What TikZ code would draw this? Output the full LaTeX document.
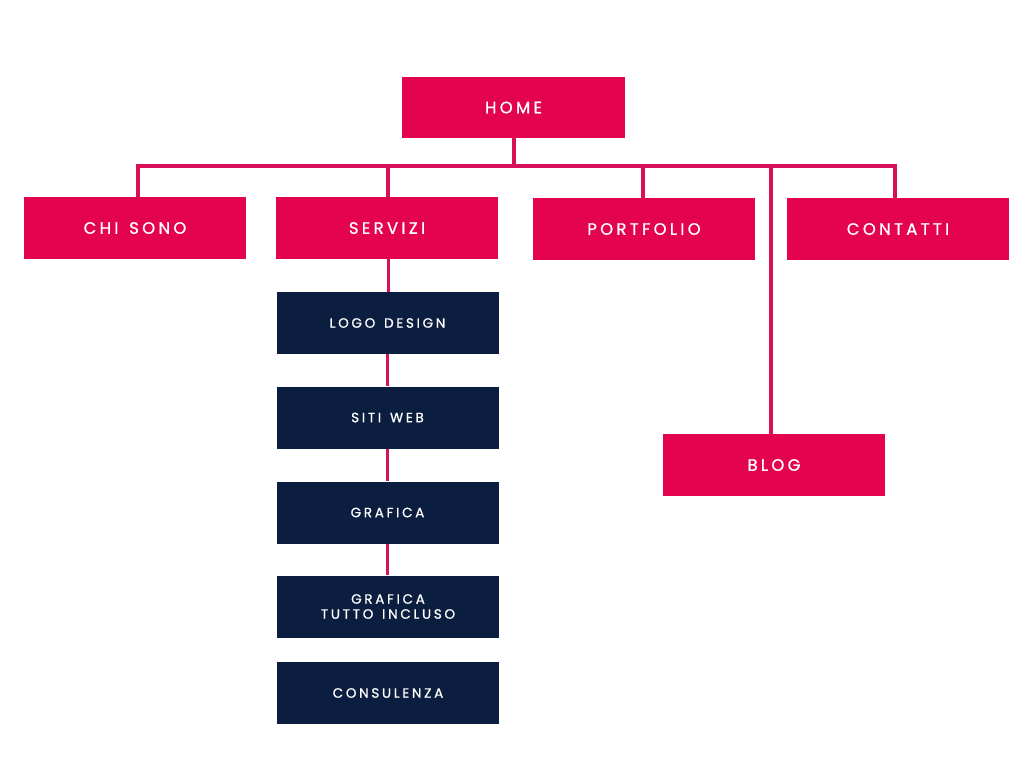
\documentclass[tikz,border=0pt]{standalone}
\usepackage{fontspec}
\setmainfont{Poppins}[LetterSpace=20,FakeBold=0.8,WordSpace=1.4]
\definecolor{pinkbox}{HTML}{E3034F}
\definecolor{pinkline}{HTML}{D8105A}
\definecolor{navybox}{HTML}{0C1E3F}
\begin{document}
\begin{tikzpicture}[x=1pt,y=-1pt,
  pinknode/.style={rectangle, fill=pinkbox, minimum width=222pt, minimum height=62pt, inner sep=0pt, text=white, font=\fontsize{16.5}{18}\selectfont},
  navynode/.style={rectangle, fill=navybox, minimum width=222pt, minimum height=62pt, inner sep=0pt, text=white, align=center, font=\fontsize{13.5}{18}\selectfont},
  conn/.style={draw=pinkline, line width=4pt}]
\useasboundingbox (0,0) rectangle (1024,768);
\fill[white] (0,0) rectangle (1024,768);
\coordinate (busy) at (0,166);
\node[pinknode, minimum width=223pt, minimum height=61pt] (home) at (513.5,107.5) {HOME};
\node[pinknode] (chi) at (135,228) {CHI SONO};
\node[pinknode] (servizi) at (387,228) {SERVIZI};
\node[pinknode] (portfolio) at (644,229) {PORTFOLIO};
\node[pinknode] (contatti) at (898,229) {CONTATTI};
\node[pinknode] (blog) at (774,465) {BLOG};
\node[navynode] (logo) at (387.5,323) {LOGO DESIGN};
\node[navynode] (siti) at (387.5,417.5) {SITI WEB};
\node[navynode] (grafica) at (387.5,512.5) {GRAFICA};
\node[navynode] (tutto) at (388,606.5) {GRAFICA\\[-3pt]TUTTO INCLUSO};
\node[navynode] (consulenza) at (388,693) {CONSULENZA};
\draw[conn] (home.south) -- (home.south |- busy);
\draw[conn, line cap=rect] ([xshift=3pt]chi.north |- busy) -- ([xshift=-3pt]contatti.north |- busy);
\draw[conn] ([xshift=3pt]chi.north) -- ([xshift=3pt]chi.north |- busy);
\draw[conn] ([xshift=1pt]servizi.north) -- ([xshift=1pt]servizi.north |- busy);
\draw[conn] ([xshift=-1pt]portfolio.north) -- ([xshift=-1pt]portfolio.north |- busy);
\draw[conn] ([xshift=-3pt]contatti.north) -- ([xshift=-3pt]contatti.north |- busy);
\draw[conn] ([xshift=-3pt]blog.north) -- ([xshift=-3pt]blog.north |- busy);
\draw[conn, line width=3pt] ([xshift=1pt]servizi.south) -- ([xshift=0.5pt]logo.north);
\draw[conn, line width=3pt] (logo.south) -- (siti.north);
\draw[conn, line width=3pt] (siti.south) -- (grafica.north);
\draw[conn, line width=3pt] (grafica.south) -- ([xshift=-0.5pt]tutto.north);
\end{tikzpicture}
\end{document}
